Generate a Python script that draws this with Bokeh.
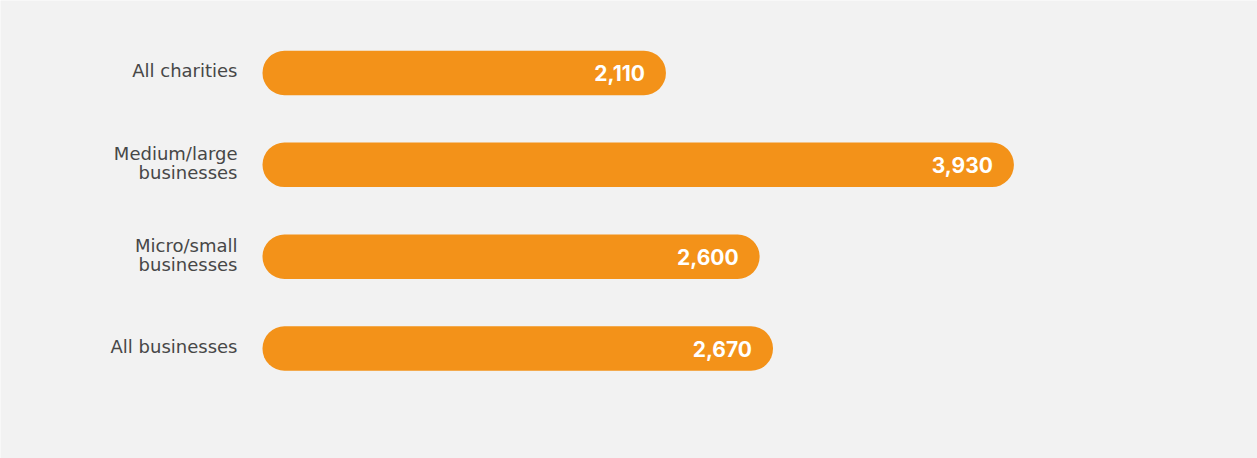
from bokeh.plotting import figure
from bokeh.models import ColumnDataSource, Range1d
from bokeh.core.properties import value
from bokeh.embed import file_html
from bokeh.resources import INLINE

categories = ["All charities", "Medium/large\nbusinesses", "Micro/small\nbusinesses", "All businesses"]
values = [2110, 3930, 2600, 2670]
value_labels = ["2,110", "3,930", "2,600", "2,670"]

n = len(categories)
ypos = [n - 1 - i for i in range(n)]

src = ColumnDataSource(dict(y=ypos, v=values, cat=categories, vl=value_labels, zero=[0] * n))

p = figure(width=1257, height=458, output_backend="svg", toolbar_location=None,
           x_range=Range1d(-1370.3, 5204.0), y_range=Range1d(-1.197, 3.789),
           min_border=0, outline_line_color=None)
p.background_fill_color = "#f2f2f2"
p.border_fill_color = "#f2f2f2"
p.axis.visible = False
p.grid.visible = False

p.hbar(y="y", left="zero", right="v", height=0.484, source=src,
       fill_color="#f39219", line_color=None, border_radius=22)

p.text(x="v", y="y", text="vl", source=src, x_offset=-21, text_align="right",
       text_baseline="middle", text_color="white", text_font=value("Inter"),
       text_font_size="21px", text_font_style="bold")

p.text(x="zero", y="y", text="cat", source=src, x_offset=-25, y_offset=-2,
       text_align="right", text_baseline="middle", text_color="#474747",
       text_font=value("DejaVu Sans"), text_font_size="18px", text_line_height=0.9)

html = file_html(p, INLINE)
html = html.replace("<body>", '<body style="background:#f2f2f2">', 1)
open("out.html", "w").write(html)
